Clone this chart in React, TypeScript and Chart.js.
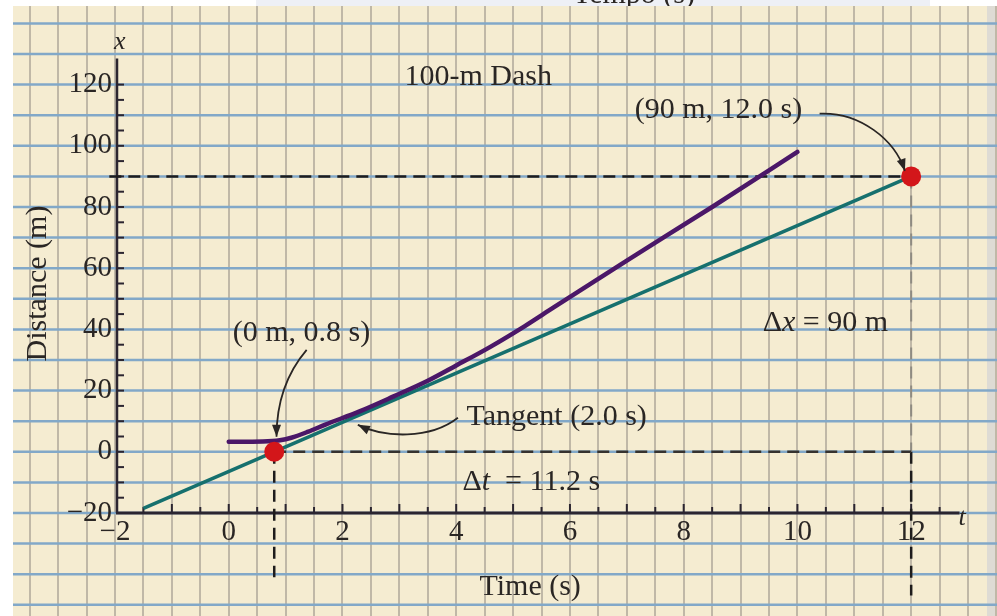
import { useEffect, useRef } from "react";
import { Chart, registerables } from "chart.js";

Chart.register(...registerables);

// Runner's position over time for the 100-m dash (time in s, distance in m)
const runTimes = [0, 0.6, 0.9, 1.1, 1.4, 1.7, 2.3, 2.9, 3.5, 4.0, 4.6, 5.2, 5.7, 7.0, 8.5, 10.0];
const runDistances = [3.3, 3.4, 3.8, 4.6, 6.6, 8.9, 13.2, 18.1, 23.2, 28.2, 34.3, 41.0, 47.0, 62.5, 80.0, 98.0];

// Tangent line (2.0 s) through the two marked points
const tangentTimes = [-1.5, 12.0];
const tangentDistances = [-18.5, 90];

// Marked points: (0 m, 0.8 s) and (90 m, 12.0 s)
const markTimes = [0.8, 12.0];
const markDistances = [0, 90];

// Dashed guides for Δt and Δx
const guideTopTimes = [-2.1, 12.0];
const guideTopDistances = [90, 90];
const guideBaseTimes = [0.8, 12.0];
const guideBaseDistances = [0, 0];
const dropStartTimes = [0.8, 0.8];
const dropStartDistances = [0, -41];
const dropEndTimes = [12.0, 12.0];
const dropEndUpperDistances = [90, 0];
const dropEndLowerDistances = [0, -47];

const timeTicks = [-2, 0, 2, 4, 6, 8, 10, 12];
const distanceTicks = [-20, 0, 20, 40, 60, 80, 100, 120];

const FONT = '"Liberation Serif", "Times New Roman", serif';
const INK = "#2a2624";

const pts = (xs: number[], ys: number[]) => xs.map((x, i) => ({ x, y: ys[i] }));
const fmt = (v: number) => (v < 0 ? "\u2212" + Math.abs(v) : String(v));

type P = [number, number];

function drawParts(ctx: CanvasRenderingContext2D, parts: Array<[string, boolean]>, x: number, y: number, size: number) {
  let cx = x;
  for (const [text, italic] of parts) {
    ctx.font = `${italic ? "italic " : ""}${size}px ${FONT}`;
    ctx.fillText(text, cx, y);
    cx += ctx.measureText(text).width;
  }
}

function drawArrow(ctx: CanvasRenderingContext2D, p: P[]) {
  const [p0, p1, p2, p3] = p;
  ctx.beginPath();
  ctx.moveTo(p0[0], p0[1]);
  ctx.bezierCurveTo(p1[0], p1[1], p2[0], p2[1], p3[0], p3[1]);
  ctx.stroke();
  const a = Math.atan2(p3[1] - p2[1], p3[0] - p2[0]);
  const L = 12;
  const W = 4.5;
  const c = Math.cos(a);
  const s = Math.sin(a);
  ctx.beginPath();
  ctx.moveTo(p3[0], p3[1]);
  ctx.lineTo(p3[0] - L * c + W * s, p3[1] - L * s - W * c);
  ctx.lineTo(p3[0] - L * c - W * s, p3[1] - L * s + W * c);
  ctx.closePath();
  ctx.fill();
}

// Annotation anchors in data units (time, distance)
const arrowToEnd: P[] = [[10.39, 110.5], [11.1, 111.1], [11.71, 102.0], [11.89, 91.8]];
const arrowToStart: P[] = [[1.37, 33.3], [1.04, 26.1], [0.84, 17.0], [0.84, 4.9]];
const arrowToTangent: P[] = [[4.03, 11.1], [3.53, 3.9], [2.74, 4.6], [2.27, 8.8]];

const paperPlugin = {
  id: "paper",
  beforeDraw(chart: any) {
    const { ctx, width, height } = chart;
    const xs = chart.scales.x;
    const ys = chart.scales.y;
    ctx.save();
    ctx.fillStyle = "#ffffff";
    ctx.fillRect(0, 0, width, height);
    ctx.fillStyle = "#eef0f6";
    ctx.fillRect(256, 0, 674, 6);

    // caption of the page above, cut off by the edge
    ctx.save();
    ctx.beginPath();
    ctx.rect(0, 0, width, 6);
    ctx.clip();
    ctx.fillStyle = INK;
    ctx.font = `30px ${FONT}`;
    ctx.textAlign = "center";
    ctx.textBaseline = "alphabetic";
    ctx.fillText("Tempo (s)", 634, 3);
    ctx.restore();

    // graph paper
    ctx.fillStyle = "#f5ecd1";
    ctx.fillRect(13, 6, 974, height - 6);
    ctx.fillStyle = "#dedbd4";
    ctx.fillRect(987, 6, width - 987, height - 6);

    ctx.beginPath();
    ctx.rect(13, 6, width - 13, height - 6);
    ctx.clip();
    ctx.strokeStyle = "#c0b8a7";
    ctx.lineWidth = 2;
    for (let t = -4; t <= 14; t += 0.5) {
      const x = Math.round(xs.getPixelForValue(t));
      ctx.beginPath();
      ctx.moveTo(x, 6);
      ctx.lineTo(x, height);
      ctx.stroke();
    }
    ctx.strokeStyle = "#82a8c8";
    ctx.lineWidth = 2.5;
    for (let v = -60; v <= 150; v += 10) {
      const y = ys.getPixelForValue(v);
      ctx.beginPath();
      ctx.moveTo(13, y);
      ctx.lineTo(width, y);
      ctx.stroke();
    }
    ctx.restore();
  },
  beforeDatasetsDraw(chart: any) {
    const { ctx } = chart;
    const xs = chart.scales.x;
    const ys = chart.scales.y;
    const x0 = xs.getPixelForValue(-2) + 2;
    const y0 = ys.getPixelForValue(-20);
    ctx.save();
    ctx.strokeStyle = "#2b2530";
    ctx.lineCap = "butt";
    // time axis
    ctx.lineWidth = 3;
    ctx.beginPath();
    ctx.moveTo(x0 - 1, y0);
    ctx.lineTo(xs.getPixelForValue(12.85), y0);
    ctx.stroke();
    // distance axis
    ctx.lineWidth = 2.5;
    ctx.beginPath();
    ctx.moveTo(x0, y0);
    ctx.lineTo(x0, ys.getPixelForValue(128.5));
    ctx.stroke();
    // tick marks
    ctx.lineWidth = 2;
    for (let t = -1.5; t <= 12.5; t += 0.5) {
      const x = xs.getPixelForValue(t);
      const len = Number.isInteger(t) ? 9 : 6;
      ctx.beginPath();
      ctx.moveTo(x, y0);
      ctx.lineTo(x, y0 - len);
      ctx.stroke();
    }
    for (let v = -15; v <= 120; v += 5) {
      const y = ys.getPixelForValue(v);
      ctx.beginPath();
      ctx.moveTo(x0, y);
      ctx.lineTo(x0 + 7, y);
      ctx.stroke();
    }
    ctx.restore();
  },
  afterDraw(chart: any) {
    const { ctx } = chart;
    const xs = chart.scales.x;
    const ys = chart.scales.y;
    const px = (p: P): P => [xs.getPixelForValue(p[0]), ys.getPixelForValue(p[1])];
    ctx.save();
    ctx.fillStyle = INK;
    ctx.strokeStyle = "#2a2624";
    ctx.lineWidth = 1.8;
    drawArrow(ctx, arrowToEnd.map(px));
    drawArrow(ctx, arrowToStart.map(px));
    drawArrow(ctx, arrowToTangent.map(px));

    ctx.textAlign = "left";
    ctx.textBaseline = "middle";
    const at = (t: number, v: number) => px([t, v]);
    let p = at(3.09, 122.5);
    drawParts(ctx, [["100-m Dash", false]], p[0], p[1], 30);
    p = at(7.14, 111.8);
    drawParts(ctx, [["(90 m, 12.0 s)", false]], p[0], p[1], 30);
    p = at(0.07, 38.9);
    drawParts(ctx, [["(0 m, 0.8 s)", false]], p[0], p[1], 30);
    p = at(4.18, 11.4);
    drawParts(ctx, [["Tangent (2.0 s)", false]], p[0], p[1], 30);
    p = at(4.11, -9.8);
    drawParts(ctx, [["\u0394", false], ["t", true], ["  = 11.2 s", false]], p[0], p[1], 30);
    p = at(9.39, 42.2);
    drawParts(ctx, [["\u0394", false], ["x", true], [" = 90 m", false]], p[0], p[1], 30);

    ctx.textAlign = "center";
    p = at(-1.88, 134);
    drawParts(ctx, [["x", true]], p[0] - 2, p[1], 26);
    p = at(12.93, -21.6);
    drawParts(ctx, [["t", true]], p[0] - 2, p[1], 26);
    ctx.restore();
  },
};

export default function App() {
  const ref = useRef<HTMLCanvasElement>(null);

  useEffect(() => {
    document.body.style.margin = "0";
    const canvas = ref.current;
    if (!canvas) return;

    const dashed = (data: { x: number; y: number }[], color: string, width: number) => ({
      data,
      showLine: true,
      borderColor: color,
      borderWidth: width,
      borderDash: [12, 7],
      pointRadius: 0,
      clip: false as const,
    });

    const chart = new Chart(canvas, {
      type: "scatter",
      data: {
        datasets: [
          {
            label: "Marked points",
            data: pts(markTimes, markDistances),
            showLine: false,
            pointRadius: 10,
            pointBackgroundColor: "#d3161a",
            pointBorderWidth: 0,
            clip: false,
          } as any,
          {
            label: "Distance",
            data: pts(runTimes, runDistances),
            showLine: true,
            borderColor: "#4b1768",
            borderWidth: 4.5,
            cubicInterpolationMode: "monotone",
            pointRadius: 0,
            borderCapStyle: "round",
          },
          {
            label: "Tangent (2.0 s)",
            data: pts(tangentTimes, tangentDistances),
            showLine: true,
            borderColor: "#16706e",
            borderWidth: 3.5,
            pointRadius: 0,
          },
          dashed(pts(guideTopTimes, guideTopDistances), "#1e1c1c", 2.5),
          dashed(pts(guideBaseTimes, guideBaseDistances), "#35322f", 2.5),
          dashed(pts(dropStartTimes, dropStartDistances), "#1e1c1c", 2.5),
          dashed(pts(dropEndTimes, dropEndUpperDistances), "#8f8b82", 2),
          dashed(pts(dropEndTimes, dropEndLowerDistances), "#1e1c1c", 2.5),
        ] as any,
      },
      options: {
        responsive: false,
        animation: false,
        events: [],
        layout: { padding: { left: 0, top: 54, right: 51.7, bottom: 0 } },
        plugins: {
          legend: { display: false },
          tooltip: { enabled: false },
        },
        scales: {
          x: {
            type: "linear",
            min: -2,
            max: 12.6,
            grid: { display: false, drawTicks: false },
            border: { display: false },
            afterFit: (s: any) => {
              s.height = 103;
            },
            afterBuildTicks: (s: any) => {
              s.ticks = timeTicks.map((value) => ({ value }));
            },
            ticks: {
              autoSkip: false,
              maxRotation: 0,
              padding: 2,
              color: INK,
              font: { family: FONT, size: 29 },
              callback: (v: any) => fmt(Number(v)),
            },
            title: {
              display: true,
              text: "Time (s)",
              color: INK,
              font: { family: FONT, size: 30 },
              padding: { top: 0, bottom: 11 },
            },
          },
          y: {
            type: "linear",
            min: -20,
            max: 130,
            grid: { display: false, drawTicks: false },
            border: { display: false },
            afterFit: (s: any) => {
              s.width = 115;
            },
            afterBuildTicks: (s: any) => {
              s.ticks = distanceTicks.map((value) => ({ value }));
            },
            ticks: {
              autoSkip: false,
              padding: 3,
              color: INK,
              font: { family: FONT, size: 29 },
              callback: (v: any) => fmt(Number(v)),
            },
            title: {
              display: true,
              text: "Distance (m)",
              color: INK,
              font: { family: FONT, size: 30 },
              padding: { top: 20, bottom: 0 },
            },
          },
        },
      },
      plugins: [paperPlugin],
    });

    return () => chart.destroy();
  }, []);

  return (
    <canvas
      ref={ref}
      width={997}
      height={616}
      style={{ display: "block", width: 997, height: 616 }}
    />
  );
}
